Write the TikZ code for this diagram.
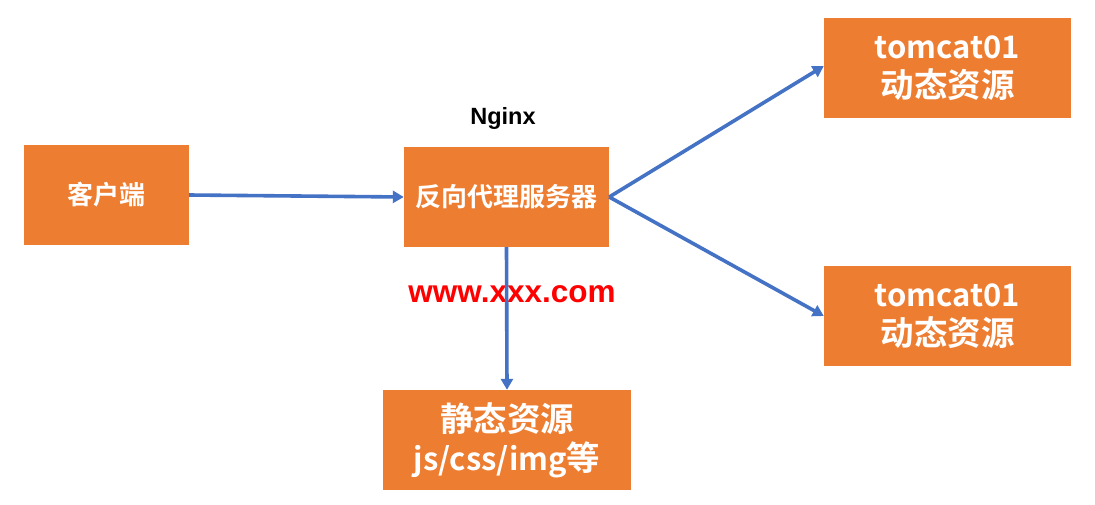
\documentclass[tikz,border=0pt]{standalone}
\usepackage{fontspec}
\setmainfont{Noto Sans CJK SC}[BoldFont={* Bold}]
\newfontfamily\cjkb{Noto Sans CJK SC Bold}
\newfontfamily\arialb{Liberation Sans Bold}
\usetikzlibrary{arrows.meta}
\definecolor{boxorange}{HTML}{ED7D31}
\definecolor{lineblue}{HTML}{4472C4}
\newcommand\bigcjk[1]{{\fontsize{33.5}{39}\selectfont #1}}
\begin{document}
\begin{tikzpicture}[x=1pt,y=-1pt,
  box/.style={fill=boxorange,draw=none,text=white,font=\cjkb\fontsize{26}{30}\selectfont,align=center,inner sep=0pt},
  bigbox/.style={box,font=\cjkb\fontsize{31}{39}\selectfont},
  conn/.style={draw=lineblue,line width=3.6pt,-{Triangle[length=11pt,width=12pt]}}]
\useasboundingbox (0,0) rectangle (1095,504);
\node[box,minimum width=165pt,minimum height=100pt] (client) at (106.5,195) {客户端};
\node[box,minimum width=205pt,minimum height=100pt] (proxy) at (506.5,197) {反向代理服务器};
\node[bigbox,minimum width=247pt,minimum height=100pt] (tc1) at (947.5,68) {tomcat01\\\bigcjk{动态资源}};
\node[bigbox,minimum width=247pt,minimum height=100pt] (tc2) at (947.5,316) {tomcat01\\\bigcjk{动态资源}};
\node[bigbox,minimum width=248pt,minimum height=100pt] (static) at (507,440) {\bigcjk{静态资源}\\js/css/img\bigcjk{等}};
\node[font=\arialb\fontsize{23.5}{26}\selectfont,text=black] (nginx) at (503,118) {Nginx};
\node[font=\arialb\fontsize{31.5}{34}\selectfont,text=red] (url) at (512,294) {www.xxx.com};
\draw[conn] (client.east) -- (proxy.west);
\draw[conn] (proxy.east) -- ([yshift=2pt]tc1.west);
\draw[conn] (proxy.east) -- (tc2.west);
\draw[conn] (proxy.south) -- (static.north);
\end{tikzpicture}
\end{document}
